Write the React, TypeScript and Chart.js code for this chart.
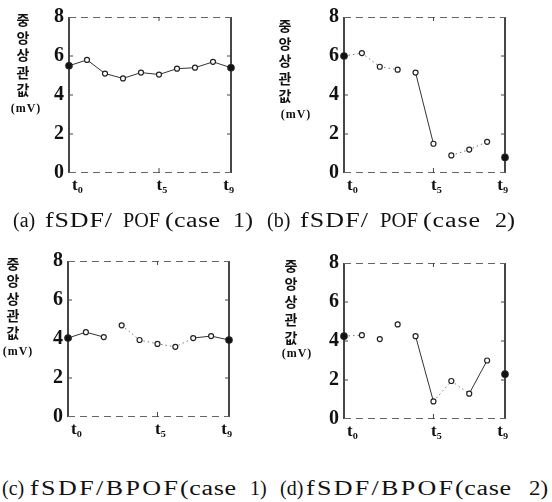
import React, { useEffect, useRef } from 'react';
import { Chart, registerables } from 'chart.js';
Chart.register(...registerables);

// ---- data ----
const timeLabels = ['t₀', '', '', '', '', 't₅', '', '', '', 't₉'];
const yTickValues = [0, 2, 4, 6, 8];
const caseA = [5.5, 5.8, 5.1, 4.85, 5.15, 5.05, 5.35, 5.4, 5.7, 5.4];
const caseB = [6.0, 6.15, 5.45, 5.3, 5.15, 1.5, 0.9, 1.2, 1.6, 0.8];
const caseC = [4.05, 4.35, 4.1, 4.7, 3.95, 3.75, 3.6, 4.05, 4.15, 3.95];
const caseD = [4.25, 4.3, 4.1, 4.85, 4.25, 0.9, 1.95, 1.3, 3.0, 2.3];
const captionA = ['(a)', 'fSDF/', 'POF', '(case', '1)'];
const captionB = ['(b)', 'fSDF/', 'POF', '(case', '2)'];
const captionC = ['(c)', 'fSDF/BPOF', '(case', '1)'];
const captionD = ['(d)', 'fSDF/BPOF', '(case', '2)'];
const yTitleChars = ['중', '앙', '상', '관', '값'];
const yUnit = '(mV)';

// ---- segment styles (s = solid, d = dotted, n = none) ----
const segA = 'sssssssss';
const segB = 'dddnsnddn';
const segC = 'ssnddddss';
const segD = 'dnnnsddsn';

type Panel = {
  data: number[];
  seg: string;
  left: number; top: number; w: number; h: number;
  area: { l: number; t: number; r: number; b: number };
  title: { x: number; y: number; step: number; unitX: number; unitY: number };
};

const panels: Panel[] = [
  { data: caseA, seg: segA, left: 0, top: 0, w: 276, h: 200,
    area: { l: 69, t: 14, r: 231, b: 173 },
    title: { x: 23, y: 19, step: 17.5, unitX: 26, unitY: 108 } },
  { data: caseB, seg: segB, left: 276, top: 0, w: 276, h: 200,
    area: { l: 68, t: 16, r: 229, b: 173 },
    title: { x: 285, y: 25, step: 17.6, unitX: 296, unitY: 114 } },
  { data: caseC, seg: segC, left: 0, top: 240, w: 276, h: 210,
    area: { l: 68, t: 21, r: 229, b: 177 },
    title: { x: 13, y: 263, step: 17.3, unitX: 18, unitY: 351 } },
  { data: caseD, seg: segD, left: 276, top: 240, w: 276, h: 210,
    area: { l: 68, t: 23, r: 229, b: 179 },
    title: { x: 291, y: 265, step: 18, unitX: 297, unitY: 353 } },
];

// word boxes [start, end] in page px
const captions = [
  { words: captionA, box: [[13, 33], [45, 112], [123, 160], [165, 220], [233, 253]], y: 220 },
  { words: captionB, box: [[267, 287], [300, 368], [380, 418], [423, 480], [495, 515]], y: 220 },
  { words: captionC, box: [[2, 21], [30, 178], [180, 236], [250, 266]], y: 488 },
  { words: captionD, box: [[280, 299], [306, 453], [455, 511], [529, 548]], y: 488 },
];

const CAP_SIZE = 20;
const CAP_FONT = `${CAP_SIZE}px "Liberation Serif"`;
let measureCtx: CanvasRenderingContext2D | null = null;
function textWidth(t: string): number {
  if (!measureCtx) measureCtx = document.createElement('canvas').getContext('2d');
  if (!measureCtx) return t.length * 9;
  measureCtx.font = CAP_FONT;
  return measureCtx.measureText(t).width;
}

const framePlugin = {
  id: 'frame',
  beforeDatasetsDraw(chart: any) {
    const { ctx, chartArea, scales } = chart;
    const { left, right, top, bottom } = chartArea;
    ctx.save();
    ctx.strokeStyle = '#1a1a1a';
    ctx.lineWidth = 1.6;
    ctx.beginPath();
    ctx.moveTo(left, top); ctx.lineTo(left, bottom);
    ctx.moveTo(right, top); ctx.lineTo(right, bottom);
    ctx.stroke();
    ctx.strokeStyle = '#666';
    ctx.lineWidth = 1;
    ctx.setLineDash([7, 5]);
    ctx.beginPath();
    ctx.moveTo(left, top + 0.5); ctx.lineTo(right, top + 0.5);
    ctx.moveTo(left, bottom - 0.5); ctx.lineTo(right, bottom - 0.5);
    ctx.stroke();
    ctx.setLineDash([]);
    ctx.strokeStyle = '#444';
    ctx.beginPath();
    [2, 4, 6].forEach((v) => {
      const y = scales.y.getPixelForValue(v);
      ctx.moveTo(left, y); ctx.lineTo(left + 4, y);
      ctx.moveTo(right, y); ctx.lineTo(right - 4, y);
    });
    const x5 = scales.x.getPixelForValue(5);
    ctx.moveTo(x5, top); ctx.lineTo(x5, top + 4);
    ctx.moveTo(x5, bottom); ctx.lineTo(x5, bottom - 5);
    ctx.stroke();
    ctx.restore();
  },
};

function PanelChart({ p }: { p: Panel }) {
  const ref = useRef<HTMLCanvasElement>(null);
  useEffect(() => {
    if (!ref.current) return;
    const seg = p.seg;
    const chart = new Chart(ref.current, {
      type: 'line',
      data: {
        labels: timeLabels,
        datasets: [{
          data: p.data,
          borderColor: '#222',
          borderWidth: 1,
          pointRadius: p.data.map((_, i) => (i === 0 || i === p.data.length - 1 ? 3.2 : 2.5)),
          pointBackgroundColor: p.data.map((_, i) => (i === 0 || i === p.data.length - 1 ? '#111' : '#fff')),
          pointBorderColor: '#222',
          pointBorderWidth: 1.2,
          segment: {
            borderDash: (c: any) => (seg[c.p0DataIndex] === 'd' ? [1.5, 3] : []),
            borderColor: (c: any) => {
              const s = seg[c.p0DataIndex];
              return s === 'n' ? 'rgba(0,0,0,0)' : s === 'd' ? '#777' : '#333';
            },
          },
        }],
      },
      options: {
        animation: false,
        responsive: false,
        maintainAspectRatio: false,
        layout: { padding: { left: 0, top: p.area.t, right: p.w - p.area.r, bottom: 0 } },
        plugins: { legend: { display: false }, tooltip: { enabled: false } },
        scales: {
          x: {
            type: 'category',
            offset: false,
            grid: { display: false, drawTicks: false },
            border: { display: false },
            ticks: {
              autoSkip: false, maxRotation: 0, padding: 2,
              align: 'inner',
              labelOffset: 3,
              color: '#111',
              font: { family: 'Liberation Serif', size: 17, weight: 'bold' },
            },
            afterFit: (s: any) => { s.height = p.h - p.area.b; },
          },
          y: {
            min: 0, max: 8,
            afterBuildTicks: (s: any) => { s.ticks = yTickValues.map((v) => ({ value: v })); },
            grid: { display: false, drawTicks: false },
            border: { display: false },
            ticks: {
              padding: 5,
              color: '#111',
              font: { family: 'Liberation Serif', size: 20, weight: 'bold' },
            },
            afterFit: (s: any) => { s.width = p.area.l; },
          },
        },
      },
      plugins: [framePlugin],
    });
    return () => chart.destroy();
  }, [p]);
  return (
    <canvas ref={ref} width={p.w} height={p.h}
      style={{ position: 'absolute', left: p.left, top: p.top, width: p.w, height: p.h }} />
  );
}

function Word({ text, x0, x1, y }: { text: string; x0: number; x1: number; y: number }) {
  const natural = textWidth(text);
  const target = x1 - x0;
  const sx = Math.max(1, Math.min(1.3, target / natural));
  const ls = Math.max(0, (target / sx - natural) / Math.max(1, text.length - 1));
  return (
    <div style={{
      position: 'absolute', left: x0, top: y - 11,
      fontFamily: '"Liberation Serif", serif', fontSize: CAP_SIZE, lineHeight: '22px',
      color: '#111', whiteSpace: 'pre', letterSpacing: ls,
      transform: `scaleX(${sx})`, transformOrigin: 'left center',
    }}>{text}</div>
  );
}

export default function App() {
  return (
    <div style={{ position: 'fixed', left: 0, top: 0, width: 552, height: 502, background: '#fff', overflow: 'hidden' }}>
      {panels.map((p, i) => (
        <React.Fragment key={i}>
          <PanelChart p={p} />
          {yTitleChars.map((ch, j) => (
            <div key={j} style={{
              position: 'absolute', left: p.title.x - 10, top: p.title.y + j * p.title.step - 9,
              width: 20, textAlign: 'center', fontFamily: '"Noto Sans CJK KR"', fontWeight: 700,
              fontSize: 14, lineHeight: '18px', color: '#111',
            }}>{ch}</div>
          ))}
          <div style={{
            position: 'absolute', left: p.title.unitX - 20, top: p.title.unitY - 8,
            width: 40, textAlign: 'center', fontFamily: '"Liberation Serif"', fontWeight: 700,
            fontSize: 12, lineHeight: '16px', letterSpacing: 1, color: '#111',
          }}>{yUnit}</div>
        </React.Fragment>
      ))}
      {captions.map((c, i) => (
        <React.Fragment key={i}>
          {c.words.map((w, j) => (
            <Word key={j} text={w} x0={c.box[j][0]} x1={c.box[j][1]} y={c.y} />
          ))}
        </React.Fragment>
      ))}
    </div>
  );
}
